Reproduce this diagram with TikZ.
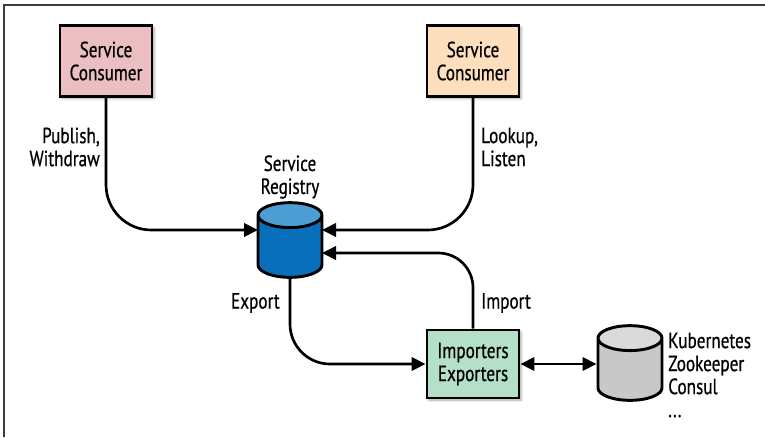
\documentclass[tikz,border=0pt]{standalone}
\usepackage{fontspec}
\setmainfont{PT Sans}[FakeStretch=0.78, FakeBold=0.6]
\usetikzlibrary{arrows.meta,calc,positioning,shapes.geometric,shadows.blur}

\definecolor{consumerpink}{RGB}{235,190,193}
\definecolor{consumerpeach}{RGB}{253,223,190}
\definecolor{bridgegreen}{RGB}{180,224,201}
\definecolor{regtop}{RGB}{76,158,213}
\definecolor{regbody}{RGB}{10,111,186}
\definecolor{storetop}{RGB}{218,218,218}
\definecolor{storebody}{RGB}{200,200,200}

\tikzset{
  txt/.style={font=\fontsize{16.5pt}{17.25pt}\selectfont, inner sep=0.75pt},
  box/.style={txt, draw, line width=2.2pt, align=center, minimum width=69pt, minimum height=53pt,
    blur shadow={shadow xshift=1.5pt, shadow yshift=-1.5pt, shadow blur steps=4, shadow opacity=35}},
  db/.style={draw, line width=2.2pt, cylinder, shape border rotate=90, aspect=2.8, anchor=shape center,
    minimum width=48pt, minimum height=56pt, cylinder uses custom fill},
  link/.style={line width=2pt, rounded corners=#1, -{Triangle[length=10.5pt,width=10pt]}},
  link/.default=34pt
}

\begin{document}
\begin{tikzpicture}[x=0.75pt,y=0.75pt,yscale=-1,xscale=1]
\useasboundingbox (0,0) rectangle (765,437);

%Frame
\draw [color={rgb, 255:red, 60; green, 60; blue, 60 }, line width=1.2pt]  (4,437) -- (4,5) -- (765,5) ;

%Shape: Boxes
\node [box, fill=consumerpink] (pub) at (106,61) {Service\\Consumer};
\node [box, fill=consumerpeach] (look) at (473,61) {Service\\Consumer};
\node [box, fill=bridgegreen, minimum height=51pt] (imex) at (473,364) {Importers\\Exporters};

%Shape: Cylinders
\node [db, cylinder body fill=regbody, cylinder end fill=regtop] (reg) at (290,240) {};
\node [db, cylinder body fill=storebody, cylinder end fill=storetop] (store) at (630,363) {};

%Connectors
\draw [link] (pub.south) |- ($(reg.shape center)+(-32,-10)$) ;
\draw [link] (look.south) |- ($(reg.shape center)+(32,-10)$) ;
\draw [link=26pt] (imex.north) |- ($(reg.shape center)+(32,13)$) ;
\draw [link=30pt] (reg.south) |- (imex.west) ;
\draw [line width=2pt, {Triangle[length=10.5pt,width=10pt]}-{Triangle[length=10.5pt,width=10pt]}] (imex.east) -- (imex.east -| store.west) ;

% Text Node
\node [txt, align=center, above=1pt of reg] (regname) {Service\\Registry};
% Text Node
\node [txt, align=right, anchor=east] (pubname) at (101,147) {Publish,\\Withdraw};
% Text Node
\node [txt, align=left, anchor=west] (lookname) at (480,147) {Lookup,\\Listen};
% Text Node
\node [txt, anchor=east] (expname) at (281,303) {Export};
% Text Node
\node [txt, anchor=west] (impname) at (480,303) {Import};
% Text Node
\node [txt, align=left, anchor=west] (storename) at (667,375) {Kubernetes\\Zookeeper\\Consul\\...};

\end{tikzpicture}
\end{document}
